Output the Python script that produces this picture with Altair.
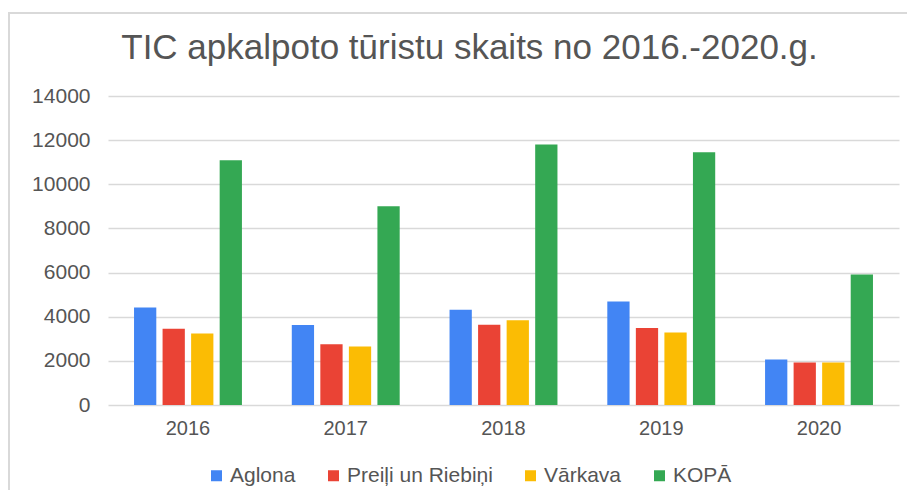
import altair as alt
import pandas as pd

years = ["2016", "2017", "2018", "2019", "2020"]
series = ["Aglona", "Preiļi un Riebiņi", "Vārkava", "KOPĀ"]
aglona = [4420, 3630, 4320, 4690, 2060]
preili = [3450, 2750, 3640, 3490, 1920]
varkava = [3240, 2650, 3840, 3290, 1920]
kopa = [11090, 9010, 11800, 11450, 5910]
colors = ["#4285F4", "#EA4335", "#FBBC04", "#34A853"]

rows = []
for name, vals in zip(series, [aglona, preili, varkava, kopa]):
    for y, v in zip(years, vals):
        rows.append({"Gads": y, "Sērija": name, "Skaits": v})
df = pd.DataFrame(rows)

FONT = "Liberation Sans"

bars = alt.Chart(df).mark_bar().encode(
    x=alt.X("Gads:N", sort=years, title=None,
            scale=alt.Scale(paddingInner=0.316, paddingOuter=0.165),
            axis=alt.Axis(labelAngle=0, ticks=False, domain=False, labelPadding=13,
                          labelFontSize=20, labelColor="#555555", labelFont=FONT)),
    xOffset=alt.XOffset("Sērija:N", sort=series,
                        scale=alt.Scale(paddingInner=0.22, paddingOuter=0)),
    y=alt.Y("Skaits:Q", title=None,
            scale=alt.Scale(domain=[0, 14000], nice=False),
            axis=alt.Axis(values=[0, 2000, 4000, 6000, 8000, 10000, 12000, 14000],
                          format="d", ticks=False, domain=False, labelPadding=18,
                          labelFontSize=21, labelColor="#555555", labelFont=FONT,
                          gridColor="#d9d9d9", gridWidth=1.6)),
    color=alt.Color("Sērija:N", sort=series,
                    scale=alt.Scale(domain=series, range=colors),
                    legend=alt.Legend(orient="none", direction="horizontal",
                                      legendX=98, legendY=369, title=None,
                                      symbolType="square", symbolSize=121,
                                      symbolStrokeWidth=0, labelFontSize=21,
                                      labelFont=FONT, labelColor="#555555",
                                      labelOffset=3, columnPadding=27)),
)

frame = alt.Chart(alt.Data(values=[{}])).mark_rule(color="#d9d9d9", strokeWidth=2).encode(
    x=alt.value(-99), y=alt.value(-83), y2=alt.value(420)
)
frame_top = alt.Chart(alt.Data(values=[{}])).mark_rule(color="#d9d9d9", strokeWidth=2).encode(
    x=alt.value(-103), x2=alt.value(810), y=alt.value(-83)
)

chart = alt.layer(bars, frame, frame_top).properties(
    width=791, height=309,
    padding={"left": 100, "top": 88, "right": 8, "bottom": 85},
    autosize=alt.AutoSizeParams(type="none"),
    title=alt.Title("TIC apkalpoto tūristu skaits no 2016.-2020.g.",
                    font=FONT, fontSize=35, fontWeight="normal",
                    color="#555555", anchor="middle", dx=-34, dy=76, offset=22),
).configure_view(stroke=None)

chart.save("out.html", embed_options={"renderer": "svg", "actions": False})
